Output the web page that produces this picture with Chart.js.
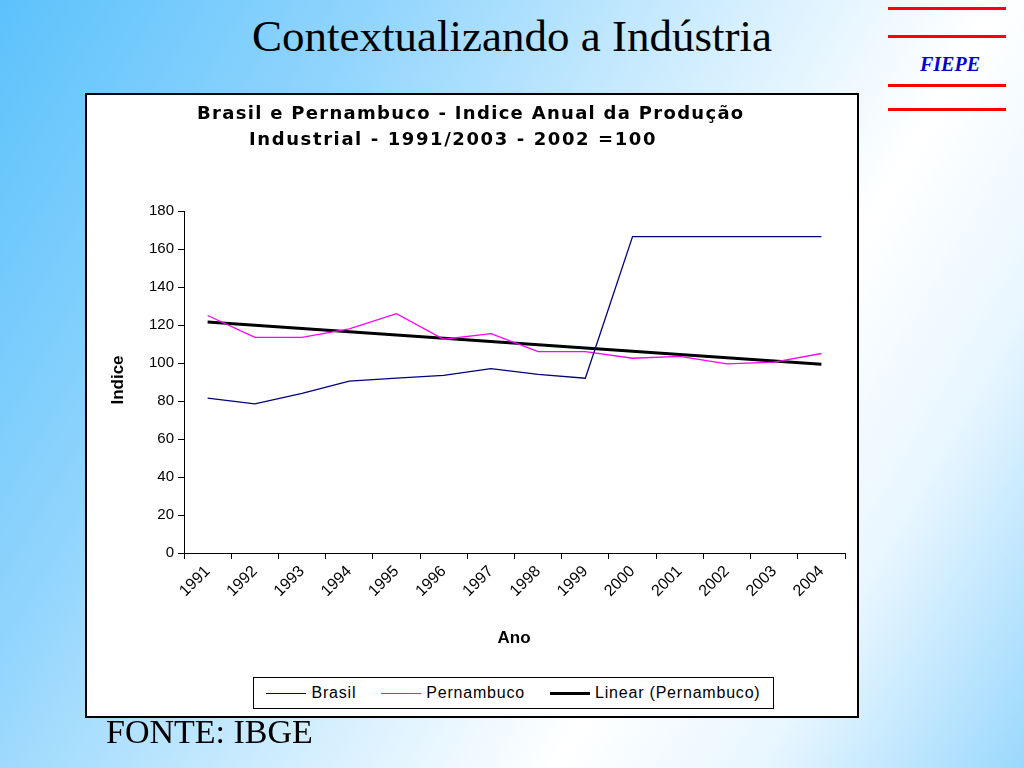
<!DOCTYPE html>
<html><head><meta charset="utf-8">
<script src="https://cdn.jsdelivr.net/npm/chart.js@4"></script>
<style>
body{margin:0;width:1024px;height:768px;overflow:hidden;position:relative;
 background:linear-gradient(120deg,#5cc2fb 0%,#8fd4fd 25%,#d2eefe 50%,#ffffff 68%,#e8f6ff 82%,#9ad8fd 100%);font-family:"Liberation Sans",Arial,sans-serif}
#slideTitle{position:absolute;left:0;width:1024px;top:10px;text-align:center;font:45px "Liberation Serif","Times New Roman",serif;color:#000}
.red{position:absolute;left:888px;width:118px;height:3px;background:#ff0000}
#fiepe{position:absolute;left:920px;top:53px;font:italic bold 20px "Liberation Serif",serif;color:#0000cc}
#box{position:absolute;left:85px;top:93px;width:770px;height:621px;background:#fff;border:2px solid #000}
#t1{position:absolute;left:197px;top:102px;font:bold 18px "DejaVu Sans",Verdana,sans-serif;white-space:nowrap;letter-spacing:1.3px}
#t2{position:absolute;left:249px;top:128px;font:bold 18px "DejaVu Sans",Verdana,sans-serif;white-space:nowrap;letter-spacing:1.6px}
#ylab{position:absolute;left:78px;top:370px;width:80px;text-align:center;transform:rotate(-90deg);font:bold 17px "Liberation Sans",Arial,sans-serif}
#xlab{position:absolute;left:474px;top:628px;width:80px;text-align:center;font:bold 17px "Liberation Sans",Arial,sans-serif}
#legend{position:absolute;left:253px;top:677px;width:519px;height:30px;border:1px solid #000;background:#fff;font:16px "Liberation Sans",Arial,sans-serif;display:flex;align-items:center;justify-content:space-around;letter-spacing:0.8px}
#legend span.l{display:inline-block;width:40px;vertical-align:middle;margin-right:5px}
#fonte{position:absolute;left:106px;top:713px;font:34px "Liberation Serif","Times New Roman",serif}
canvas{position:absolute;left:0;top:0}
</style></head><body>
<div id="slideTitle">Contextualizando a Indústria</div>
<div class="red" style="top:7px"></div>
<div class="red" style="top:35px"></div>
<div class="red" style="top:84px"></div>
<div class="red" style="top:108px"></div>
<div id="fiepe">FIEPE</div>
<div id="box"><canvas id="c" width="770" height="621"></canvas></div>
<div id="t1">Brasil e Pernambuco - Indice Anual da Produção</div>
<div id="t2">Industrial - 1991/2003 - 2002 =100</div>
<div id="ylab">Indice</div>
<div id="xlab">Ano</div>
<div id="legend">
 <div><span class="l" style="border-top:1px solid #000080"></span>Brasil</div>
 <div><span class="l" style="border-top:1px solid #ff00ff"></span>Pernambuco</div>
 <div><span class="l" style="border-top:3px solid #000"></span>Linear (Pernambuco)</div>
</div>
<div id="fonte">FONTE: IBGE</div>
<script>
const years = ['1991','1992','1993','1994','1995','1996','1997','1998','1999','2000','2001','2002','2003','2004'];
const brasil = [81.5,78.5,84,90.5,92,93.5,97,94,92,166.5,166.5,166.5,166.5,166.5];
const pernambuco = [125,113.5,113.5,118,126,112.5,115.5,106,106,102.5,103.5,99.5,100.5,105];
const yTicks = [0,20,40,60,80,100,120,140,160,180];

// linear trendline (least squares) of Pernambuco, as in the original spreadsheet
function trend(vals){
  const n = vals.length;
  let sx=0, sy=0, sxy=0, sxx=0;
  vals.forEach((v,i)=>{sx+=i;sy+=v;sxy+=i*v;sxx+=i*i;});
  const b=(n*sxy-sx*sy)/(n*sxx-sx*sx), a=(sy-b*sx)/n;
  return vals.map((v,i)=>a+b*i);
}

new Chart(document.getElementById('c'), {
  type:'line',
  data:{labels:years, datasets:[
    {label:'Brasil', data:brasil, borderColor:'#000080', borderWidth:1.3, pointRadius:0, tension:0},
    {label:'Pernambuco', data:pernambuco, borderColor:'#ff00ff', borderWidth:1.3, pointRadius:0, tension:0},
    {label:'Linear (Pernambuco)', data:trend(pernambuco), borderColor:'#000', borderWidth:3, pointRadius:0, tension:0}
  ]},
  options:{
    responsive:false, animation:false,
    layout:{padding:{left:10, right:12, top:116, bottom:10}},
    plugins:{legend:{display:false}, title:{display:false}, tooltip:{enabled:false}},
    scales:{
      x:{offset:true,
        grid:{offset:true, drawOnChartArea:false, color:'#000', tickLength:6},
        border:{color:'#000', width:1},
        ticks:{color:'#000', font:{family:'"Liberation Sans", Arial, sans-serif', size:16}, maxRotation:45, minRotation:45, autoSkip:false},
        afterFit:s=>{s.height=153;}},
      y:{min:0, max:180,
        afterBuildTicks:s=>{s.ticks=yTicks.map(v=>({value:v}));},
        grid:{drawOnChartArea:false, color:'#000', tickLength:6},
        border:{color:'#000', width:1},
        ticks:{color:'#000', font:{family:'"Liberation Sans", Arial, sans-serif', size:15}, padding:4},
        afterFit:s=>{s.width=87;}}
    }
  }
});
</script>
</body></html>
